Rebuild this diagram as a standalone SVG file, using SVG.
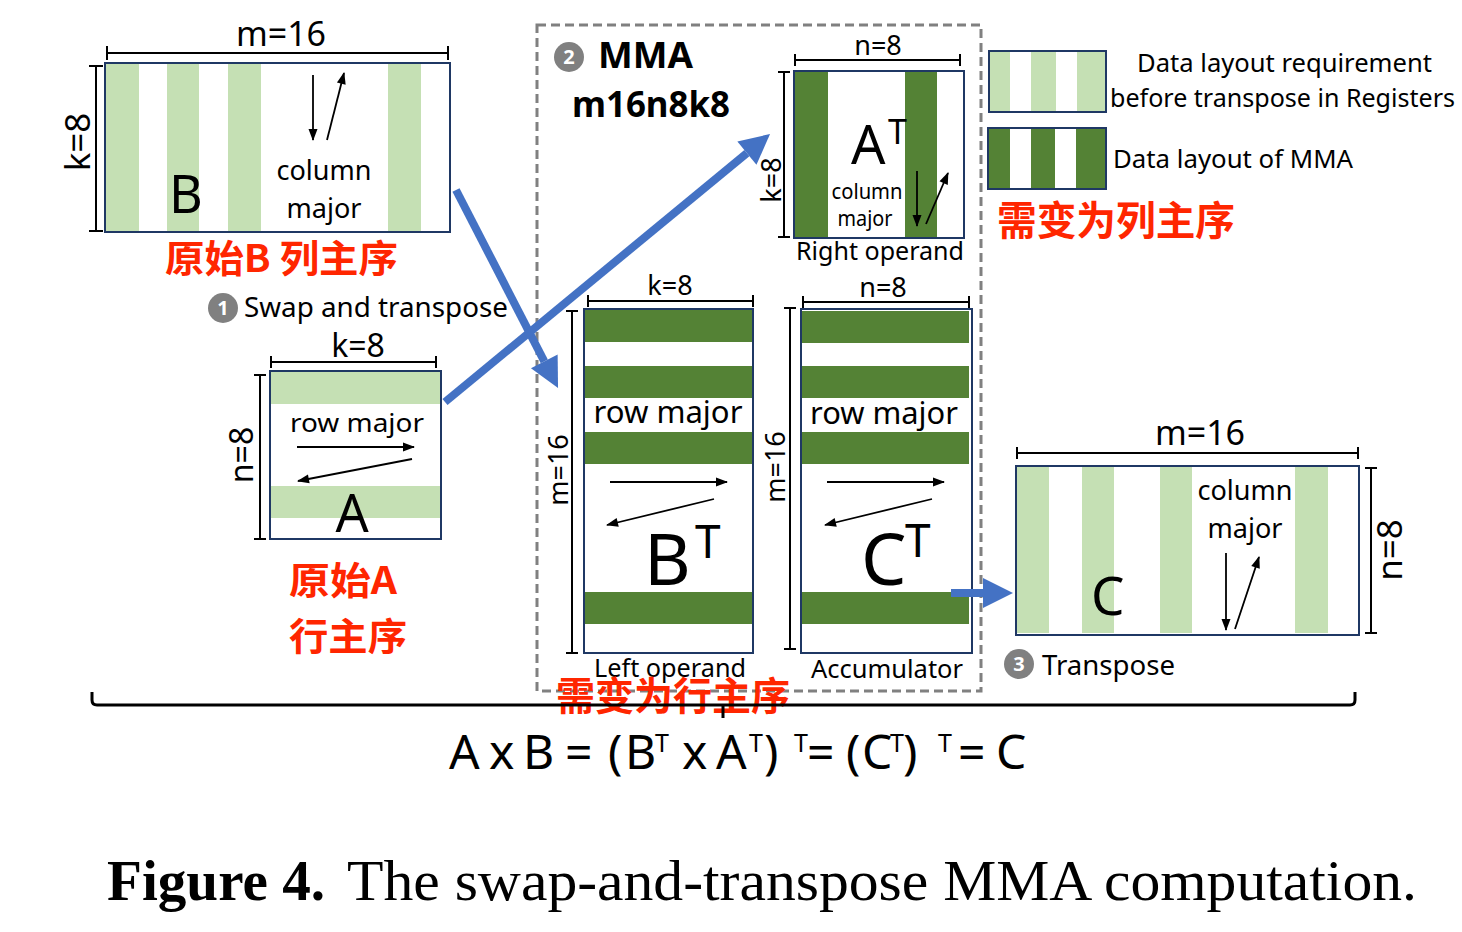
<svg xmlns="http://www.w3.org/2000/svg" width="1462" height="932" viewBox="0 0 1462 932">
<defs>
<style>
.t{font-family:"Noto Sans","Open Sans",sans-serif;fill:#000}
.b{font-weight:bold}
.red{font-family:"Noto Sans CJK SC","Noto Sans",sans-serif;fill:#FF2600;font-weight:bold}
.mat{fill:none;stroke:#1F3864;stroke-width:2}
.lg{fill:#C5E0B4}
.dg{fill:#548235}
.dim{fill:none;stroke:#000;stroke-width:2}
.flow{fill:none;stroke:#000;stroke-width:1.8;marker-end:url(#ah)}
.blue{fill:none;stroke:#4472C4;stroke-width:8;marker-end:url(#bh)}
.num{fill:#808080}
.numt{font-family:"Noto Sans",sans-serif;font-weight:bold;fill:#fff;font-size:20px}
.cap{font-family:"Liberation Serif","Times New Roman",serif;fill:#000}
</style>
<marker id="ah" markerUnits="userSpaceOnUse" markerWidth="12" markerHeight="9" refX="11" refY="4.5" orient="auto" overflow="visible"><path d="M0,0 L12,4.5 L0,9 z" fill="#000"/></marker>
<marker id="bh" markerUnits="userSpaceOnUse" markerWidth="30" markerHeight="30" refX="0" refY="15" orient="auto" overflow="visible"><path d="M0,0 L30,15 L0,30 z" fill="#4472C4"/></marker>
</defs>
<rect width="1462" height="932" fill="#fff"/>

<g id="nodeB">
<rect class="lg" x="106" y="64" width="33" height="167"/>
<rect class="lg" x="167" y="64" width="32" height="167"/>
<rect class="lg" x="228" y="64" width="33" height="167"/>
<rect class="lg" x="388" y="64" width="33" height="167"/>
<rect class="mat" x="105" y="63" width="345" height="169"/>
<path class="dim" d="M107,46 V60 M107,53 H448 M448,46 V60"/>
<path class="dim" d="M89,66 H103 M96,66 V231 M89,231 H103"/>
<text class="t" x="281" y="46" font-size="34" text-anchor="middle">m=16</text>
<text class="t" font-size="35" text-anchor="middle" transform="translate(90,142) rotate(-90)">k=8</text>
<path class="flow" d="M313,75 V140"/>
<path class="flow" d="M327,140 L344,73"/>
<text class="t" x="324" y="180" font-size="27" text-anchor="middle" textLength="95" lengthAdjust="spacingAndGlyphs">column</text>
<text class="t" x="324" y="218" font-size="27" text-anchor="middle" textLength="75" lengthAdjust="spacingAndGlyphs">major</text>
<text class="t" x="169" y="213" font-size="52">B</text>
<text class="red" x="165" y="272" font-size="38" textLength="233" lengthAdjust="spacingAndGlyphs">原始B 列主序</text>
</g>

<g id="step1">
<circle class="num" cx="223" cy="308" r="15"/>
<text class="numt" x="223" y="315" text-anchor="middle">1</text>
<text class="t" x="244" y="317" font-size="28" textLength="264" lengthAdjust="spacingAndGlyphs">Swap and transpose</text>
</g>

<g id="nodeA">
<rect class="lg" x="271" y="372" width="169" height="32"/>
<rect class="lg" x="271" y="486" width="169" height="32"/>
<rect class="mat" x="270" y="371" width="171" height="168"/>
<path class="dim" d="M271,356 V368 M271,362 H436 M436,356 V368"/>
<path class="dim" d="M254,375 H266 M260,375 V539 M254,539 H266"/>
<text class="t" x="358" y="357" font-size="32" text-anchor="middle">k=8</text>
<text class="t" font-size="32" text-anchor="middle" transform="translate(253,455) rotate(-90)">n=8</text>
<text class="t" x="357" y="432" font-size="26" text-anchor="middle" textLength="134" lengthAdjust="spacingAndGlyphs">row major</text>
<path class="flow" d="M297,447 H414"/>
<path class="flow" d="M412,459 L298,481"/>
<text class="t" x="352" y="532" font-size="52" text-anchor="middle">A</text>
<text class="red" x="289" y="594" font-size="38" textLength="108" lengthAdjust="spacingAndGlyphs">原始A</text>
<text class="red" x="289" y="650" font-size="38" textLength="118" lengthAdjust="spacingAndGlyphs">行主序</text>
</g>

<g id="mma">
<rect x="537" y="25" width="444" height="666" fill="none" stroke="#808080" stroke-width="3" stroke-dasharray="9,5"/>
<circle class="num" cx="569" cy="57" r="15"/>
<text class="numt" x="569" y="64" text-anchor="middle">2</text>
<text class="t b" x="598" y="68" font-size="35" textLength="95" lengthAdjust="spacingAndGlyphs">MMA</text>
<text class="t b" x="572" y="117" font-size="35" textLength="158" lengthAdjust="spacingAndGlyphs">m16n8k8</text>
</g>

<g id="nodeAT">
<rect class="dg" x="795" y="72" width="33" height="165"/>
<rect class="dg" x="905" y="72" width="32" height="165"/>
<rect class="mat" x="794" y="71" width="170" height="167"/>
<path class="dim" d="M795,54 V66 M795,60 H960 M960,54 V66"/>
<path class="dim" d="M778,72 H790 M784,72 V237 M778,237 H790"/>
<text class="t" x="878" y="55" font-size="27" text-anchor="middle">n=8</text>
<text class="t" font-size="27" text-anchor="middle" transform="translate(781,180) rotate(-90)">k=8</text>
<text class="t" x="851" y="164" font-size="54">A</text>
<text class="t" x="888" y="144" font-size="34">T</text>
<text class="t" x="867" y="199" font-size="21" text-anchor="middle" textLength="71" lengthAdjust="spacingAndGlyphs">column</text>
<text class="t" x="865" y="226" font-size="21" text-anchor="middle" textLength="55" lengthAdjust="spacingAndGlyphs">major</text>
<path class="flow" d="M917,171 V226"/>
<path class="flow" d="M926,224 L948,173"/>
<text class="t" x="796" y="260" font-size="26" textLength="168" lengthAdjust="spacingAndGlyphs">Right operand</text>
</g>

<g id="nodeBT">
<rect class="dg" x="585" y="310" width="167" height="32"/>
<rect class="dg" x="585" y="366" width="167" height="32"/>
<rect class="dg" x="585" y="432" width="167" height="32"/>
<rect class="dg" x="585" y="592" width="167" height="32"/>
<rect class="mat" x="584" y="309" width="169" height="344"/>
<path class="dim" d="M588,295 V307 M588,301 H753 M753,295 V307"/>
<path class="dim" d="M566,311 H578 M572,311 V653 M566,653 H578"/>
<text class="t" x="670" y="295" font-size="27" text-anchor="middle">k=8</text>
<text class="t" font-size="27" text-anchor="middle" transform="translate(568,470) rotate(-90)">m=16</text>
<text class="t" x="668" y="423" font-size="30" text-anchor="middle" textLength="149" lengthAdjust="spacingAndGlyphs">row major</text>
<path class="flow" d="M610,482 H727"/>
<path class="flow" d="M714,499 L607,525"/>
<text class="t" x="644" y="585" font-size="72">B</text>
<text class="t" x="695" y="558" font-size="46">T</text>
<text class="t" x="670" y="677" font-size="26" text-anchor="middle" textLength="152" lengthAdjust="spacingAndGlyphs">Left operand</text>
</g>

<g id="nodeCT">
<rect class="dg" x="802" y="311" width="167" height="32"/>
<rect class="dg" x="802" y="366" width="167" height="32"/>
<rect class="dg" x="802" y="432" width="167" height="32"/>
<rect class="dg" x="802" y="592" width="167" height="32"/>
<rect class="mat" x="801" y="309" width="171" height="344"/>
<path class="dim" d="M803,296 V308 M803,302 H969 M969,296 V308"/>
<path class="dim" d="M784,308 H796 M790,308 V649 M784,649 H796"/>
<text class="t" x="883" y="297" font-size="27" text-anchor="middle">n=8</text>
<text class="t" font-size="27" text-anchor="middle" transform="translate(785,467) rotate(-90)">m=16</text>
<text class="t" x="884" y="424" font-size="30" text-anchor="middle" textLength="148" lengthAdjust="spacingAndGlyphs">row major</text>
<path class="flow" d="M827,482 H944"/>
<path class="flow" d="M932,499 L825,525"/>
<text class="t" x="861" y="585" font-size="72">C</text>
<text class="t" x="905" y="557" font-size="46">T</text>
<text class="t" x="887" y="678" font-size="26" text-anchor="middle" textLength="152" lengthAdjust="spacingAndGlyphs">Accumulator</text>
</g>

<g id="nodeC">
<rect class="lg" x="1017" y="467" width="32" height="166"/>
<rect class="lg" x="1082" y="467" width="32" height="166"/>
<rect class="lg" x="1160" y="467" width="32" height="166"/>
<rect class="lg" x="1295" y="467" width="33" height="166"/>
<rect class="mat" x="1016" y="466" width="343" height="169"/>
<path class="dim" d="M1017,447 V459 M1017,453 H1358 M1358,447 V459"/>
<path class="dim" d="M1365,468 H1377 M1371,468 V633 M1365,633 H1377"/>
<text class="t" x="1200" y="445" font-size="34" text-anchor="middle">m=16</text>
<text class="t" font-size="35" text-anchor="middle" transform="translate(1402,550) rotate(-90)">n=8</text>
<text class="t" x="1245" y="500" font-size="27" text-anchor="middle" textLength="95" lengthAdjust="spacingAndGlyphs">column</text>
<text class="t" x="1245" y="538" font-size="27" text-anchor="middle" textLength="75" lengthAdjust="spacingAndGlyphs">major</text>
<path class="flow" d="M1226,553 V630"/>
<path class="flow" d="M1235,629 L1259,557"/>
<text class="t" x="1091" y="615" font-size="53">C</text>
</g>

<g id="step3">
<circle class="num" cx="1019" cy="664" r="15"/>
<text class="numt" x="1019" y="671" text-anchor="middle">3</text>
<text class="t" x="1042" y="675" font-size="27" textLength="133" lengthAdjust="spacingAndGlyphs">Transpose</text>
</g>

<g id="legend">
<rect class="lg" x="989" y="51" width="21" height="61"/>
<rect class="lg" x="1031" y="51" width="25" height="61"/>
<rect class="lg" x="1077" y="51" width="29" height="61"/>
<rect class="mat" x="989" y="51" width="117" height="61"/>
<rect class="dg" x="988" y="128" width="22" height="61"/>
<rect class="dg" x="1031" y="128" width="24" height="61"/>
<rect class="dg" x="1076" y="128" width="30" height="61"/>
<rect class="mat" x="988" y="128" width="118" height="61"/>
<text class="t" x="1137" y="72" font-size="26" textLength="295" lengthAdjust="spacingAndGlyphs">Data layout requirement</text>
<text class="t" x="1110" y="107" font-size="26" textLength="345" lengthAdjust="spacingAndGlyphs">before transpose in Registers</text>
<text class="t" x="1113" y="168" font-size="26" textLength="240" lengthAdjust="spacingAndGlyphs">Data layout of MMA</text>
<text class="red" x="997" y="235" font-size="40" textLength="238" lengthAdjust="spacingAndGlyphs">需变为列主序</text>
</g>

<g id="connectors">
<path class="blue" d="M456,190 L544.3,361.4"/>
<path class="blue" d="M445,402 L746.9,153.1"/>
<path class="blue" d="M951,593 H983"/>
</g>

<text class="red" x="556" y="710" font-size="39" textLength="234" lengthAdjust="spacingAndGlyphs">需变为行主序</text>

<g id="formula">
<path d="M92,692 V700 Q92,705 97,705 H1350 Q1355,705 1355,700 V692 M723,705 V718" fill="none" stroke="#000" stroke-width="3"/>
<text class="t" font-size="48" y="769">
<tspan x="449">A</tspan><tspan x="489">x</tspan><tspan x="523">B</tspan><tspan x="565">=</tspan><tspan x="608">(</tspan><tspan x="625">B</tspan><tspan x="655" y="752" font-size="25">T</tspan><tspan x="682" y="769">x</tspan><tspan x="716">A</tspan><tspan x="749" y="752" font-size="25">T</tspan><tspan x="764" y="769">)</tspan><tspan x="794" y="752" font-size="25">T</tspan><tspan x="807" y="769">=</tspan><tspan x="846">(</tspan><tspan x="862">C</tspan><tspan x="890" y="752" font-size="25">T</tspan><tspan x="903" y="769">)</tspan><tspan x="938" y="752" font-size="25">T</tspan><tspan x="958" y="769">=</tspan><tspan x="996">C</tspan>
</text>
</g>

<g id="caption">
<text class="cap" x="107" y="900" font-size="56" font-weight="bold" textLength="218" lengthAdjust="spacingAndGlyphs">Figure 4.</text>
<text class="cap" x="347" y="900" font-size="56" textLength="1070" lengthAdjust="spacingAndGlyphs">The swap-and-transpose MMA computation.</text>
</g>
</svg>
